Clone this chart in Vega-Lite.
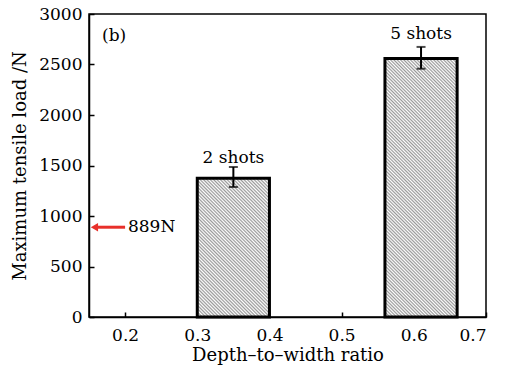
{
  "$schema": "https://vega.github.io/schema/vega-lite/v6.json",
  "width": 397,
  "height": 303,
  "autosize": "none",
  "padding": {"left": 89, "top": 14, "right": 23, "bottom": 52},
  "background": "#ffffff",
  "data": {"values": [
    {"ratio": 0.35, "x0": 0.3, "x1": 0.4, "load": 1375, "lo": 1287, "hi": 1485, "label": "2 shots"},
    {"ratio": 0.61, "x0": 0.56, "x1": 0.66, "load": 2560, "lo": 2458, "hi": 2674, "label": "5 shots"}
  ]},
  "resolve": {"axis": {"x": "independent", "y": "independent"}},
  "layer": [
    {
      "layer": [
        {
          "transform": [{"filter": "datum.ratio < 0.5"}],
          "mark": {"type": "bar", "stroke": "#000", "strokeWidth": 3,
            "fill": {"gradient": "linear", "x1": 0, "y1": 1, "x2": 0.6228, "y2": -0.1964, "stops": [
{"offset":0,"color":"#fff"},{"offset":0.008,"color":"#999"},{"offset":0.016,"color":"#fff"},{"offset":0.024,"color":"#999"},{"offset":0.032,"color":"#fff"},{"offset":0.04,"color":"#999"},{"offset":0.048,"color":"#fff"},{"offset":0.056,"color":"#999"},{"offset":0.064,"color":"#fff"},{"offset":0.072,"color":"#999"},
{"offset":0.08,"color":"#fff"},{"offset":0.088,"color":"#999"},{"offset":0.096,"color":"#fff"},{"offset":0.104,"color":"#999"},{"offset":0.112,"color":"#fff"},{"offset":0.12,"color":"#999"},{"offset":0.128,"color":"#fff"},{"offset":0.136,"color":"#999"},{"offset":0.144,"color":"#fff"},{"offset":0.152,"color":"#999"},
{"offset":0.16,"color":"#fff"},{"offset":0.168,"color":"#999"},{"offset":0.176,"color":"#fff"},{"offset":0.184,"color":"#999"},{"offset":0.192,"color":"#fff"},{"offset":0.2,"color":"#999"},{"offset":0.208,"color":"#fff"},{"offset":0.216,"color":"#999"},{"offset":0.224,"color":"#fff"},{"offset":0.232,"color":"#999"},
{"offset":0.24,"color":"#fff"},{"offset":0.248,"color":"#999"},{"offset":0.256,"color":"#fff"},{"offset":0.264,"color":"#999"},{"offset":0.272,"color":"#fff"},{"offset":0.28,"color":"#999"},{"offset":0.288,"color":"#fff"},{"offset":0.296,"color":"#999"},{"offset":0.304,"color":"#fff"},{"offset":0.312,"color":"#999"},
{"offset":0.32,"color":"#fff"},{"offset":0.328,"color":"#999"},{"offset":0.336,"color":"#fff"},{"offset":0.344,"color":"#999"},{"offset":0.352,"color":"#fff"},{"offset":0.36,"color":"#999"},{"offset":0.368,"color":"#fff"},{"offset":0.376,"color":"#999"},{"offset":0.384,"color":"#fff"},{"offset":0.392,"color":"#999"},
{"offset":0.4,"color":"#fff"},{"offset":0.408,"color":"#999"},{"offset":0.416,"color":"#fff"},{"offset":0.424,"color":"#999"},{"offset":0.432,"color":"#fff"},{"offset":0.44,"color":"#999"},{"offset":0.448,"color":"#fff"},{"offset":0.456,"color":"#999"},{"offset":0.464,"color":"#fff"},{"offset":0.472,"color":"#999"},
{"offset":0.48,"color":"#fff"},{"offset":0.488,"color":"#999"},{"offset":0.496,"color":"#fff"},{"offset":0.504,"color":"#999"},{"offset":0.512,"color":"#fff"},{"offset":0.52,"color":"#999"},{"offset":0.528,"color":"#fff"},{"offset":0.536,"color":"#999"},{"offset":0.544,"color":"#fff"},{"offset":0.552,"color":"#999"},
{"offset":0.56,"color":"#fff"},{"offset":0.568,"color":"#999"},{"offset":0.576,"color":"#fff"},{"offset":0.584,"color":"#999"},{"offset":0.592,"color":"#fff"},{"offset":0.6,"color":"#999"},{"offset":0.608,"color":"#fff"},{"offset":0.616,"color":"#999"},{"offset":0.624,"color":"#fff"},{"offset":0.632,"color":"#999"},
{"offset":0.64,"color":"#fff"},{"offset":0.648,"color":"#999"},{"offset":0.656,"color":"#fff"},{"offset":0.664,"color":"#999"},{"offset":0.672,"color":"#fff"},{"offset":0.68,"color":"#999"},{"offset":0.688,"color":"#fff"},{"offset":0.696,"color":"#999"},{"offset":0.704,"color":"#fff"},{"offset":0.712,"color":"#999"},
{"offset":0.72,"color":"#fff"},{"offset":0.728,"color":"#999"},{"offset":0.736,"color":"#fff"},{"offset":0.744,"color":"#999"},{"offset":0.752,"color":"#fff"},{"offset":0.76,"color":"#999"},{"offset":0.768,"color":"#fff"},{"offset":0.776,"color":"#999"},{"offset":0.784,"color":"#fff"},{"offset":0.792,"color":"#999"},
{"offset":0.8,"color":"#fff"},{"offset":0.808,"color":"#999"},{"offset":0.816,"color":"#fff"},{"offset":0.824,"color":"#999"},{"offset":0.832,"color":"#fff"},{"offset":0.84,"color":"#999"},{"offset":0.848,"color":"#fff"},{"offset":0.856,"color":"#999"},{"offset":0.864,"color":"#fff"},{"offset":0.872,"color":"#999"},
{"offset":0.88,"color":"#fff"},{"offset":0.888,"color":"#999"},{"offset":0.896,"color":"#fff"},{"offset":0.904,"color":"#999"},{"offset":0.912,"color":"#fff"},{"offset":0.92,"color":"#999"},{"offset":0.928,"color":"#fff"},{"offset":0.936,"color":"#999"},{"offset":0.944,"color":"#fff"},{"offset":0.952,"color":"#999"},
{"offset":0.96,"color":"#fff"},{"offset":0.968,"color":"#999"},{"offset":0.976,"color":"#fff"},{"offset":0.984,"color":"#999"},{"offset":0.992,"color":"#fff"},{"offset":1,"color":"#999"}
            ]}},
          "encoding": {
            "x": {"field": "x0", "type": "quantitative", "scale": {"domain": [0.15, 0.7], "nice": false, "zero": false},
              "axis": {"values": [0.2, 0.3, 0.4, 0.5, 0.6, 0.7], "format": ".1f", "title": "Depth\u2013to\u2013width ratio", "ticks": false, "labelPadding": 10, "titlePadding": 3}},
            "x2": {"field": "x1"},
            "y": {"field": "load", "type": "quantitative", "scale": {"domain": [0, 3000], "nice": false},
              "axis": {"values": [0, 500, 1000, 1500, 2000, 2500, 3000], "format": "d", "title": "Maximum tensile load /N", "ticks": false, "labelPadding": 7, "titlePadding": 9}},
            "y2": {"datum": 0}
          }
        },
        {
          "transform": [{"filter": "datum.ratio > 0.5"}],
          "mark": {"type": "bar", "stroke": "#000", "strokeWidth": 3,
            "fill": {"gradient": "linear", "x1": 0, "y1": 1, "x2": 0.3298, "y2": -0.1863, "stops": [
{"offset":0,"color":"#fff"},{"offset":0.005,"color":"#999"},{"offset":0.01,"color":"#fff"},{"offset":0.015,"color":"#999"},{"offset":0.02,"color":"#fff"},{"offset":0.025,"color":"#999"},{"offset":0.03,"color":"#fff"},{"offset":0.035,"color":"#999"},{"offset":0.04,"color":"#fff"},{"offset":0.045,"color":"#999"},
{"offset":0.05,"color":"#fff"},{"offset":0.055,"color":"#999"},{"offset":0.06,"color":"#fff"},{"offset":0.065,"color":"#999"},{"offset":0.07,"color":"#fff"},{"offset":0.075,"color":"#999"},{"offset":0.08,"color":"#fff"},{"offset":0.085,"color":"#999"},{"offset":0.09,"color":"#fff"},{"offset":0.095,"color":"#999"},
{"offset":0.1,"color":"#fff"},{"offset":0.105,"color":"#999"},{"offset":0.11,"color":"#fff"},{"offset":0.115,"color":"#999"},{"offset":0.12,"color":"#fff"},{"offset":0.125,"color":"#999"},{"offset":0.13,"color":"#fff"},{"offset":0.135,"color":"#999"},{"offset":0.14,"color":"#fff"},{"offset":0.145,"color":"#999"},
{"offset":0.15,"color":"#fff"},{"offset":0.155,"color":"#999"},{"offset":0.16,"color":"#fff"},{"offset":0.165,"color":"#999"},{"offset":0.17,"color":"#fff"},{"offset":0.175,"color":"#999"},{"offset":0.18,"color":"#fff"},{"offset":0.185,"color":"#999"},{"offset":0.19,"color":"#fff"},{"offset":0.195,"color":"#999"},
{"offset":0.2,"color":"#fff"},{"offset":0.205,"color":"#999"},{"offset":0.21,"color":"#fff"},{"offset":0.215,"color":"#999"},{"offset":0.22,"color":"#fff"},{"offset":0.225,"color":"#999"},{"offset":0.23,"color":"#fff"},{"offset":0.235,"color":"#999"},{"offset":0.24,"color":"#fff"},{"offset":0.245,"color":"#999"},
{"offset":0.25,"color":"#fff"},{"offset":0.255,"color":"#999"},{"offset":0.26,"color":"#fff"},{"offset":0.265,"color":"#999"},{"offset":0.27,"color":"#fff"},{"offset":0.275,"color":"#999"},{"offset":0.28,"color":"#fff"},{"offset":0.285,"color":"#999"},{"offset":0.29,"color":"#fff"},{"offset":0.295,"color":"#999"},
{"offset":0.3,"color":"#fff"},{"offset":0.305,"color":"#999"},{"offset":0.31,"color":"#fff"},{"offset":0.315,"color":"#999"},{"offset":0.32,"color":"#fff"},{"offset":0.325,"color":"#999"},{"offset":0.33,"color":"#fff"},{"offset":0.335,"color":"#999"},{"offset":0.34,"color":"#fff"},{"offset":0.345,"color":"#999"},
{"offset":0.35,"color":"#fff"},{"offset":0.355,"color":"#999"},{"offset":0.36,"color":"#fff"},{"offset":0.365,"color":"#999"},{"offset":0.37,"color":"#fff"},{"offset":0.375,"color":"#999"},{"offset":0.38,"color":"#fff"},{"offset":0.385,"color":"#999"},{"offset":0.39,"color":"#fff"},{"offset":0.395,"color":"#999"},
{"offset":0.4,"color":"#fff"},{"offset":0.405,"color":"#999"},{"offset":0.41,"color":"#fff"},{"offset":0.415,"color":"#999"},{"offset":0.42,"color":"#fff"},{"offset":0.425,"color":"#999"},{"offset":0.43,"color":"#fff"},{"offset":0.435,"color":"#999"},{"offset":0.44,"color":"#fff"},{"offset":0.445,"color":"#999"},
{"offset":0.45,"color":"#fff"},{"offset":0.455,"color":"#999"},{"offset":0.46,"color":"#fff"},{"offset":0.465,"color":"#999"},{"offset":0.47,"color":"#fff"},{"offset":0.475,"color":"#999"},{"offset":0.48,"color":"#fff"},{"offset":0.485,"color":"#999"},{"offset":0.49,"color":"#fff"},{"offset":0.495,"color":"#999"},
{"offset":0.5,"color":"#fff"},{"offset":0.505,"color":"#999"},{"offset":0.51,"color":"#fff"},{"offset":0.515,"color":"#999"},{"offset":0.52,"color":"#fff"},{"offset":0.525,"color":"#999"},{"offset":0.53,"color":"#fff"},{"offset":0.535,"color":"#999"},{"offset":0.54,"color":"#fff"},{"offset":0.545,"color":"#999"},
{"offset":0.55,"color":"#fff"},{"offset":0.555,"color":"#999"},{"offset":0.56,"color":"#fff"},{"offset":0.565,"color":"#999"},{"offset":0.57,"color":"#fff"},{"offset":0.575,"color":"#999"},{"offset":0.58,"color":"#fff"},{"offset":0.585,"color":"#999"},{"offset":0.59,"color":"#fff"},{"offset":0.595,"color":"#999"},
{"offset":0.6,"color":"#fff"},{"offset":0.605,"color":"#999"},{"offset":0.61,"color":"#fff"},{"offset":0.615,"color":"#999"},{"offset":0.62,"color":"#fff"},{"offset":0.625,"color":"#999"},{"offset":0.63,"color":"#fff"},{"offset":0.635,"color":"#999"},{"offset":0.64,"color":"#fff"},{"offset":0.645,"color":"#999"},
{"offset":0.65,"color":"#fff"},{"offset":0.655,"color":"#999"},{"offset":0.66,"color":"#fff"},{"offset":0.665,"color":"#999"},{"offset":0.67,"color":"#fff"},{"offset":0.675,"color":"#999"},{"offset":0.68,"color":"#fff"},{"offset":0.685,"color":"#999"},{"offset":0.69,"color":"#fff"},{"offset":0.695,"color":"#999"},
{"offset":0.7,"color":"#fff"},{"offset":0.705,"color":"#999"},{"offset":0.71,"color":"#fff"},{"offset":0.715,"color":"#999"},{"offset":0.72,"color":"#fff"},{"offset":0.725,"color":"#999"},{"offset":0.73,"color":"#fff"},{"offset":0.735,"color":"#999"},{"offset":0.74,"color":"#fff"},{"offset":0.745,"color":"#999"},
{"offset":0.75,"color":"#fff"},{"offset":0.755,"color":"#999"},{"offset":0.76,"color":"#fff"},{"offset":0.765,"color":"#999"},{"offset":0.77,"color":"#fff"},{"offset":0.775,"color":"#999"},{"offset":0.78,"color":"#fff"},{"offset":0.785,"color":"#999"},{"offset":0.79,"color":"#fff"},{"offset":0.795,"color":"#999"},
{"offset":0.8,"color":"#fff"},{"offset":0.805,"color":"#999"},{"offset":0.81,"color":"#fff"},{"offset":0.815,"color":"#999"},{"offset":0.82,"color":"#fff"},{"offset":0.825,"color":"#999"},{"offset":0.83,"color":"#fff"},{"offset":0.835,"color":"#999"},{"offset":0.84,"color":"#fff"},{"offset":0.845,"color":"#999"},
{"offset":0.85,"color":"#fff"},{"offset":0.855,"color":"#999"},{"offset":0.86,"color":"#fff"},{"offset":0.865,"color":"#999"},{"offset":0.87,"color":"#fff"},{"offset":0.875,"color":"#999"},{"offset":0.88,"color":"#fff"},{"offset":0.885,"color":"#999"},{"offset":0.89,"color":"#fff"},{"offset":0.895,"color":"#999"},
{"offset":0.9,"color":"#fff"},{"offset":0.905,"color":"#999"},{"offset":0.91,"color":"#fff"},{"offset":0.915,"color":"#999"},{"offset":0.92,"color":"#fff"},{"offset":0.925,"color":"#999"},{"offset":0.93,"color":"#fff"},{"offset":0.935,"color":"#999"},{"offset":0.94,"color":"#fff"},{"offset":0.945,"color":"#999"},
{"offset":0.95,"color":"#fff"},{"offset":0.955,"color":"#999"},{"offset":0.96,"color":"#fff"},{"offset":0.965,"color":"#999"},{"offset":0.97,"color":"#fff"},{"offset":0.975,"color":"#999"},{"offset":0.98,"color":"#fff"},{"offset":0.985,"color":"#999"},{"offset":0.99,"color":"#fff"},{"offset":0.995,"color":"#999"},
{"offset":1,"color":"#fff"}
            ]}},
          "encoding": {
            "x": {"field": "x0", "type": "quantitative"},
            "x2": {"field": "x1"},
            "y": {"field": "load", "type": "quantitative"},
            "y2": {"datum": 0}
          }
        },
        {
          "transform": [{"filter": "datum.ratio < 0.5"}],
          "mark": {"type": "text", "baseline": "alphabetic", "dy": -4, "fontSize": 17, "font": "DejaVu Serif", "color": "#000"},
          "encoding": {
            "x": {"field": "ratio", "type": "quantitative"},
            "y": {"field": "hi", "type": "quantitative"},
            "text": {"field": "label"}
          }
        },
        {
          "transform": [{"filter": "datum.ratio > 0.5"}],
          "mark": {"type": "text", "baseline": "alphabetic", "dy": -8, "fontSize": 17, "font": "DejaVu Serif", "color": "#000"},
          "encoding": {
            "x": {"field": "ratio", "type": "quantitative"},
            "y": {"field": "hi", "type": "quantitative"},
            "text": {"field": "label"}
          }
        },
        {
          "data": {"values": [{}]},
          "mark": {"type": "text", "align": "left", "baseline": "middle", "fontSize": 17, "font": "DejaVu Serif", "color": "#000"},
          "encoding": {
            "x": {"datum": 0.168, "type": "quantitative"},
            "y": {"datum": 2785, "type": "quantitative"},
            "text": {"value": "(b)"}
          }
        },
        {
          "data": {"values": [{}]},
          "mark": {"type": "rule", "color": "#e8302a", "strokeWidth": 3},
          "encoding": {
            "x": {"datum": 0.158, "type": "quantitative"},
            "x2": {"datum": 0.2},
            "y": {"datum": 889, "type": "quantitative"}
          }
        },
        {
          "data": {"values": [{}]},
          "mark": {"type": "point", "shape": "triangle-left", "filled": true, "color": "#e8302a", "size": 70, "opacity": 1},
          "encoding": {
            "x": {"datum": 0.1575, "type": "quantitative"},
            "y": {"datum": 889, "type": "quantitative"}
          }
        },
        {
          "data": {"values": [{}]},
          "mark": {"type": "text", "align": "left", "baseline": "middle", "fontSize": 17, "font": "DejaVu Serif", "color": "#000"},
          "encoding": {
            "x": {"datum": 0.204, "type": "quantitative"},
            "y": {"datum": 889, "type": "quantitative"},
            "text": {"value": "889N"}
          }
        }
      ]
    },
    {
      "mark": {"type": "errorbar", "ticks": {"size": 9, "thickness": 2, "color": "#000"}, "rule": {"strokeWidth": 2, "color": "#000"}},
      "encoding": {
        "x": {"field": "ratio", "type": "quantitative",
          "axis": {"orient": "top", "offset": -303, "values": [0.2, 0.3, 0.4, 0.5, 0.6, 0.7], "labels": false, "domain": false, "title": null, "ticks": true, "tickSize": 5}},
        "y": {"field": "lo", "type": "quantitative",
          "axis": {"orient": "right", "offset": -397, "values": [0, 500, 1000, 1500, 2000, 2500, 3000], "labels": false, "domain": false, "title": null, "ticks": true, "tickSize": 5}},
        "y2": {"field": "hi"}
      }
    }
  ],
  "config": {
    "font": "DejaVu Serif",
    "view": {"stroke": "#000", "strokeWidth": 1.5},
    "axis": {
      "grid": false,
      "domainColor": "#000",
      "domainWidth": 1.5,
      "tickColor": "#000",
      "tickWidth": 1.5,
      "labelColor": "#000",
      "titleColor": "#000",
      "labelFont": "DejaVu Serif",
      "titleFont": "DejaVu Serif",
      "labelFontSize": 17,
      "titleFontSize": 18,
      "titleFontWeight": "normal"
    }
  }
}
